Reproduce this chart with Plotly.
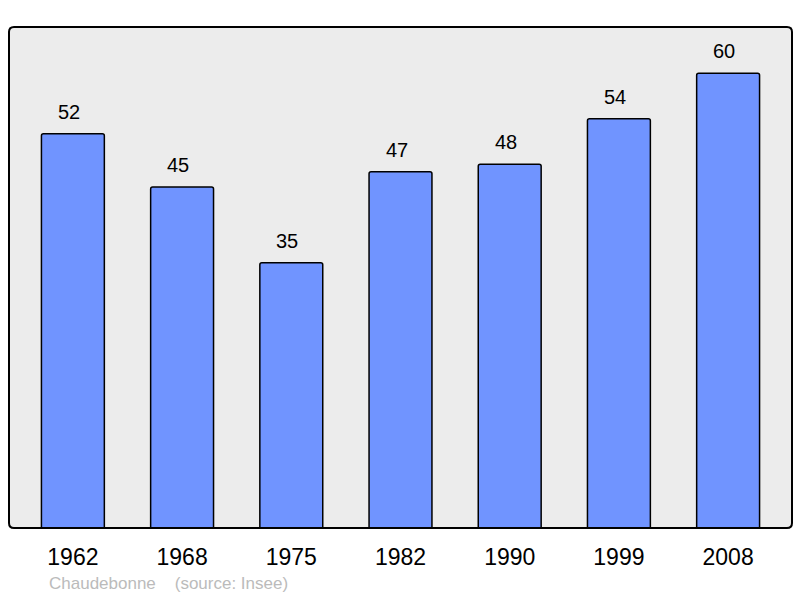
import plotly.graph_objects as go

# Population de Chaudebonne (source: Insee)
annees = ["1962", "1968", "1975", "1982", "1990", "1999", "2008"]
population = [52, 45, 35, 47, 48, 54, 60]

W, H = 800, 598
ml, mr, mt, mb = 9, 8, 27, 70

fig = go.Figure()

fig.add_trace(go.Bar(
    x=annees,
    y=population,
    width=0.576,
    marker=dict(color="#7094ff", line=dict(color="#000000", width=1.5), cornerradius=2),
    hoverinfo="x+y",
))

# etichette dei valori sopra le barre
for i, p in enumerate(population):
    fig.add_annotation(x=i, y=p, text=str(p), showarrow=False, yanchor="bottom", yshift=9, xshift=-4,
                       font=dict(family="Liberation Sans, Arial", size=20, color="#000000"))

# bordo arrotondato dell'area del grafico
rx, ry = 5 / (W - ml - mr), 5 / (H - mt - mb)
path = (f"M {rx},0 L {1-rx},0 Q 1,0 1,{ry} L 1,{1-ry} Q 1,1 {1-rx},1 "
        f"L {rx},1 Q 0,1 0,{1-ry} L 0,{ry} Q 0,0 {rx},0 Z")
fig.add_shape(type="path", xref="paper", yref="paper", path=path,
              line=dict(color="#000000", width=2), layer="above")

fig.add_annotation(xref="paper", yref="paper", x=(47 - ml) / (W - ml - mr), y=-55 / (H - mt - mb),
                   xanchor="left", yanchor="middle", showarrow=False,
                   text="Chaudebonne&nbsp;&nbsp;&nbsp;&nbsp;(source: Insee)",
                   font=dict(family="Liberation Sans, Arial", size=17, color="#bbbbbb"))

fig.update_layout(
    width=W, height=H,
    margin=dict(l=ml, r=mr, t=mt, b=mb),
    plot_bgcolor="#ececec",
    paper_bgcolor="#ffffff",
    showlegend=False,
    font=dict(family="Liberation Sans, Arial", color="#000000"),
)
fig.update_xaxes(type="category", range=[-0.585, 6.585], showgrid=False, zeroline=False,
                 showline=False, ticks="outside", ticklen=8, tickcolor="rgba(0,0,0,0)",
                 tickfont=dict(size=23, color="#000000"), fixedrange=True)
fig.update_yaxes(range=[0, 66.1], showgrid=False, zeroline=False, showticklabels=False,
                 fixedrange=True)

fig.write_html("out.html", config={"displayModeBar": False},
               post_script="document.body.style.margin='0';document.body.style.overflow='hidden';")
